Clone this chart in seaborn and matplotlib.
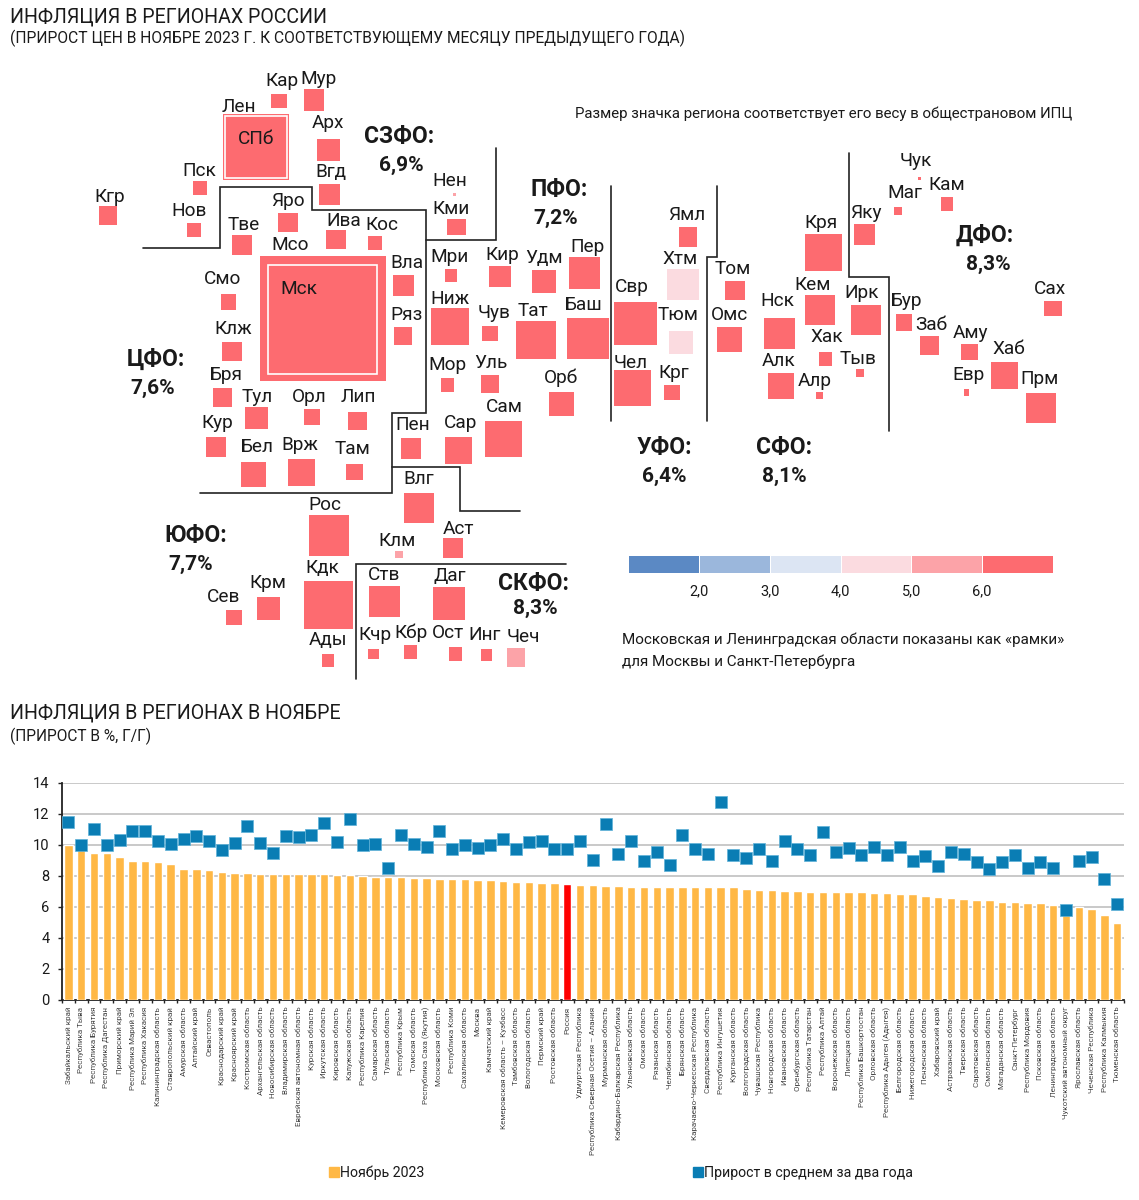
import matplotlib
matplotlib.use("Agg")
import matplotlib.pyplot as plt
from matplotlib.colors import BoundaryNorm, ListedColormap
from matplotlib.lines import Line2D
from matplotlib.patches import Rectangle
import numpy as np
import seaborn as sns

# bottom chart data
regions = ["Забайкальский край", "Республика Тыва", "Республика Бурятия", "Республика Дагестан", "Приморский край",
           "Республика Марий Эл", "Республика Хакасия", "Калининградская область", "Ставропольский край", "Амурская область",
           "Алтайский край", "Севастополь", "Краснодарский край", "Красноярский край", "Костромская область",
           "Архангельская область", "Новосибирская область", "Владимирская область", "Еврейская автономная область", "Курская область",
           "Иркутская область", "Кировская область", "Калужская область", "Республика Карелия", "Самарская область",
           "Тульская область", "Республика Крым", "Томская область", "Республика Саха (Якутия)", "Московская область",
           "Республика Коми", "Сахалинская область", "Москва", "Камчатский край", "Кемеровская область – Кузбасс",
           "Тамбовская область", "Вологодская область", "Пермский край", "Ростовская область", "Россия",
           "Удмуртская Республика", "Республика Северная Осетия – Алания", "Мурманская область", "Кабардино-Балкарская Республика", "Ульяновская область",
           "Омская область", "Рязанская область", "Челябинская область", "Брянская область", "Карачаево-Черкесская Республика",
           "Свердловская область", "Республика Ингушетия", "Курганская область", "Волгоградская область", "Чувашская Республика",
           "Новгородская область", "Ивановская область", "Оренбургская область", "Республика Татарстан", "Республика Алтай",
           "Воронежская область", "Липецкая область", "Республика Башкортостан", "Орловская область", "Республика Адыгея (Адыгея)",
           "Белгородская область", "Нижегородская область", "Пензенская область", "Хабаровский край", "Астраханская область",
           "Тверская область", "Саратовская область", "Смоленская область", "Магаданская область", "Санкт-Петербург",
           "Республика Мордовия", "Псковская область", "Ленинградская область", "Чукотский автономный округ", "Ярославская область",
           "Чеченская Республика", "Республика Калмыкия", "Тюменская область"]
nov_2023 = [10.0, 9.74, 9.48, 9.46, 9.18, 8.97, 8.92, 8.86, 8.77, 8.43,
            8.43, 8.37, 8.22, 8.17, 8.15, 8.13, 8.13, 8.11, 8.11, 8.11,
            8.09, 8.04, 8.02, 7.98, 7.94, 7.91, 7.89, 7.85, 7.85, 7.81,
            7.76, 7.76, 7.70, 7.70, 7.66, 7.59, 7.59, 7.53, 7.51, 7.46,
            7.40, 7.40, 7.33, 7.33, 7.29, 7.29, 7.29, 7.27, 7.27, 7.29,
            7.25, 7.25, 7.25, 7.14, 7.10, 7.05, 6.99, 6.99, 6.97, 6.95,
            6.95, 6.92, 6.92, 6.86, 6.86, 6.82, 6.82, 6.71, 6.65, 6.56,
            6.47, 6.43, 6.43, 6.30, 6.30, 6.26, 6.22, 6.13, 6.05, 6.00,
            5.83, 5.44, 4.92]
two_year_avg = [11.46, 10.0, 11.03, 9.98, 10.32, 10.86, 10.90, 10.22, 10.02, 10.39,
                10.56, 10.22, 9.68, 10.11, 11.20, 10.11, 9.48, 10.56, 10.47, 10.62,
                11.38, 10.17, 11.66, 10.0, 10.06, 8.49, 10.60, 10.04, 9.85, 10.86,
                9.74, 10.0, 9.81, 9.98, 10.34, 9.70, 10.15, 10.24, 9.70, 9.70,
                10.22, 8.99, 11.35, 9.40, 10.24, 8.97, 9.53, 8.67, 10.60, 9.74,
                9.42, 12.75, 9.35, 9.14, 9.70, 8.92, 10.26, 9.74, 9.35, 10.80,
                9.53, 9.76, 9.31, 9.83, 9.33, 9.87, 8.92, 9.29, 8.65, 9.53,
                9.38, 8.86, 8.43, 8.86, 9.31, 8.49, 8.88, 8.52, 5.81, 8.95,
                9.20, 7.76, 6.19]

# map tiles: edges in picture pixels, inflation picks the colour
tile_name = ["Кар", "Мур", "Лен", "СПб", "Арх", "Вгд", "Пск", "Нов", "Кгр", "Яро",
             "Тве", "Ива", "Кос", "Мсо", "Мск", "Вла", "Ряз", "Смо", "Клж", "Бря",
             "Тул", "Орл", "Лип", "Кур", "Бел", "Врж", "Там", "Пен", "Сар", "Сам",
             "Нен", "Кми", "Мри", "Кир", "Удм", "Пер", "Ниж", "Чув", "Тат", "Баш",
             "Мор", "Уль", "Орб", "Свр", "Ямл", "Хтм", "Тюм", "Чел", "Крг", "Том",
             "Омс", "Нск", "Алк", "Кря", "Кем", "Хак", "Алр", "Ирк", "Тыв", "Яку",
             "Чук", "Маг", "Кам", "Бур", "Заб", "Аму", "Евр", "Хаб", "Прм", "Сах",
             "Влг", "Рос", "Клм", "Аст", "Кдк", "Крм", "Сев", "Ады", "Ств", "Даг",
             "Кчр", "Кбр", "Ост", "Инг", "Чеч"]
tile_value = [7.98, 7.33, 6.13, 6.30, 8.13, 7.59, 6.22, 7.05, 8.86, 6.00,
              6.47, 6.99, 8.15, 7.81, 7.70, 8.11, 7.29, 6.43, 8.02, 7.27,
              7.91, 6.86, 6.92, 8.11, 6.82, 6.95, 7.59, 6.71, 6.43, 7.94,
              5.50, 7.76, 8.97, 8.04, 7.40, 7.53, 6.82, 7.10, 6.97, 6.92,
              6.26, 7.29, 6.99, 7.25, 6.50, 4.50, 4.92, 7.27, 7.25, 7.85,
              7.29, 8.13, 8.43, 8.17, 7.66, 8.92, 6.95, 8.09, 9.74, 7.85,
              6.05, 6.30, 7.70, 9.48, 10.0, 8.43, 8.11, 6.65, 9.18, 7.76,
              7.14, 7.51, 5.44, 6.56, 8.22, 7.89, 8.37, 6.86, 8.77, 9.46,
              7.29, 7.33, 7.40, 7.25, 5.83]
tile_left = [271, 304, 223, 225, 317, 319, 193, 187, 99, 278,
             232, 326, 368, 260, 268, 393, 394, 221, 222, 213,
             245, 304, 348, 206, 241, 288, 346, 401, 445, 485,
             453, 447, 445, 489, 532, 569, 431, 482, 516, 567,
             441, 481, 549, 614, 679, 667, 669, 614, 664, 725,
             717, 764, 768, 805, 805, 819, 816, 851, 856, 854,
             918, 894, 941, 896, 920, 961, 964, 991, 1026, 1044,
             404, 309, 395, 443, 304, 257, 226, 322, 369, 433,
             368, 404, 449, 481, 507]
tile_right = [287, 324, 289, 287, 340, 340, 207, 201, 117, 298,
              252, 346, 382, 386, 377, 414, 412, 236, 242, 232,
              268, 320, 367, 226, 266, 315, 363, 421, 472, 522,
              456, 466, 457, 511, 556, 600, 469, 498, 556, 609,
              454, 499, 574, 657, 697, 699, 693, 651, 680, 745,
              742, 795, 794, 842, 835, 832, 823, 881, 864, 875,
              921, 902, 953, 912, 939, 978, 969, 1018, 1056, 1062,
              434, 349, 403, 463, 353, 280, 242, 334, 400, 465,
              379, 417, 462, 492, 525]
tile_top = [94, 89, 114, 116, 139, 184, 181, 223, 206, 213,
            235, 230, 236, 256, 265, 275, 327, 294, 342, 388,
            407, 409, 412, 437, 462, 459, 464, 438, 437, 421,
            193, 219, 269, 266, 270, 257, 308, 326, 321, 318,
            378, 375, 392, 302, 227, 269, 331, 370, 385, 281,
            327, 318, 373, 234, 295, 352, 392, 305, 369, 224,
            177, 207, 197, 314, 336, 344, 389, 362, 393, 301,
            493, 515, 551, 538, 581, 597, 610, 654, 586, 587,
            649, 645, 647, 649, 648]
tile_bottom = [108, 111, 180, 178, 161, 205, 195, 237, 225, 232,
               255, 249, 250, 381, 374, 296, 345, 310, 361, 407,
               429, 425, 430, 457, 487, 486, 480, 459, 464, 457,
               196, 235, 282, 287, 293, 289, 345, 341, 359, 359,
               392, 393, 416, 345, 247, 300, 354, 406, 400, 300,
               352, 349, 399, 271, 325, 366, 399, 335, 377, 245,
               180, 215, 211, 331, 355, 360, 396, 389, 423, 316,
               523, 556, 558, 558, 629, 620, 625, 667, 617, 620,
               659, 659, 661, 661, 667]
label_x = [282, 319, 239, 256, 328, 331, 199, 189, 110, 288,
           244, 344, 382, 290, 299, 407, 407, 223, 233, 226,
           257, 309, 358, 217, 257, 300, 352, 413, 461, 504,
           450, 451, 449, 502, 544, 587, 450, 494, 533, 583,
           447, 491, 561, 632, 687, 680, 678, 631, 674, 733,
           729, 777, 779, 821, 813, 827, 815, 862, 858, 866,
           916, 905, 947, 906, 931, 970, 968, 1009, 1040, 1050,
           419, 325, 397, 458, 322, 268, 224, 328, 384, 450,
           375, 411, 448, 485, 523]
label_y = [79, 77, 106, 137, 122, 171, 169, 210, 195, 200,
           223, 219, 223, 244, 288, 262, 314, 278, 327, 374,
           395, 395, 396, 422, 446, 444, 448, 424, 421, 406,
           179, 207, 255, 254, 257, 246, 297, 311, 309, 304,
           363, 361, 376, 285, 214, 257, 313, 361, 372, 267,
           313, 300, 360, 222, 284, 336, 379, 291, 357, 212,
           159, 192, 183, 299, 323, 332, 374, 347, 378, 287,
           478, 504, 539, 528, 566, 581, 595, 639, 574, 575,
           633, 631, 632, 634, 636]

# districts
district_name = ["СЗФО:", "ЦФО:", "ПФО:", "УФО:", "СФО:", "ДФО:", "ЮФО:", "СКФО:"]
district_rate = ["6,9%", "7,6%", "7,2%", "6,4%", "8,1%", "8,3%", "7,7%", "8,3%"]
district_x = [399, 156, 559, 664, 784, 985, 196, 533]
district_y = [135, 358, 188, 446, 446, 234, 534, 582]
rate_x = [401, 153, 556, 664, 784, 988, 191, 535]
rate_y = [164, 387, 217, 475, 475, 263, 563, 607]
border_lines = [
    [(143, 248), (220, 248), (220, 187), (312, 187), (312, 210), (426, 210), (426, 413), (392, 413), (392, 493), (200, 493)],
    [(496, 148), (496, 240), (426, 240)],
    [(392, 467), (460, 467), (460, 511), (520, 511)],
    [(566, 564), (356, 564), (356, 679)],
    [(611, 186), (611, 421)],
    [(717, 186), (717, 257), (707, 257), (707, 421)],
    [(849, 153), (849, 277), (889, 277), (889, 431)],
]

# colour scale
scale_edges = [1, 2, 3, 4, 5, 6, 7]
scale_colors = ["#5B89C4", "#9BB7DC", "#DCE5F3", "#FBDBE0", "#FCA3A8", "#FD6B70"]
scale_labels = ["2,0", "3,0", "4,0", "5,0", "6,0"]

sns.set_theme(style="white")
plt.rcParams["font.family"] = ["Roboto", "DejaVu Sans"]
TEXT = "#1a1a1a"

fig = plt.figure(figsize=(11.39, 12), dpi=100)

# whole page in pixel units, for the tile map and all loose text
page = fig.add_axes([0, 0, 1, 1])
page.set_xlim(0, 1139)
page.set_ylim(1200, 0)
page.axis("off")


def put(x, y, s, size=11, ha="left", weight="normal"):
    page.text(x, y + 1.5, s, fontsize=size, ha=ha, va="center", color=TEXT, fontweight=weight)


put(10, 15, "ИНФЛЯЦИЯ В РЕГИОНАХ РОССИИ", 14.15)
put(10, 37, "(ПРИРОСТ ЦЕН В НОЯБРЕ 2023 Г. К СООТВЕТСТВУЮЩЕМУ МЕСЯЦУ ПРЕДЫДУЩЕГО ГОДА)", 11.23)
put(10, 712, "ИНФЛЯЦИЯ В РЕГИОНАХ В НОЯБРЕ", 14.15)
put(10, 735, "(ПРИРОСТ В %, Г/Г)", 11.2)
put(575, 112, "Размер значка региона соответствует его весу в общестрановом ИПЦ", 10.83)
put(622, 638, "Московская и Ленинградская области показаны как «рамки»", 10.95)
put(622, 660, "для Москвы и Санкт-Петербурга", 10.95)

cmap = ListedColormap(scale_colors)
norm = BoundaryNorm(scale_edges[:-1] + [99], cmap.N)

for i, name in enumerate(tile_name):
    # city tiles sit inside their oblast tile, a white ring separates them
    ring = name in ("СПб", "Мск")
    page.add_patch(Rectangle((tile_left[i], tile_top[i]), tile_right[i] - tile_left[i], tile_bottom[i] - tile_top[i],
                             facecolor=cmap(norm(tile_value[i])), edgecolor="white" if ring else "none",
                             linewidth=1.2 if ring else 0))
    put(label_x[i], label_y[i], name, 13.7, ha="center")

for i, name in enumerate(district_name):
    put(district_x[i], district_y[i], name, 16.5, ha="center", weight="bold")
    put(rate_x[i], rate_y[i], district_rate[i], 15, ha="center", weight="bold")

for line in border_lines:
    xs, ys = zip(*line)
    page.plot(xs, ys, color="#222222", lw=1.2, solid_joinstyle="miter")

# colour scale bar
scale_ax = fig.add_axes([628 / 1139, 1 - 573 / 1200, 425 / 1139, 18 / 1200])
scale_ax.pcolormesh(scale_edges, [0, 1], [scale_edges[:-1]], cmap=cmap, norm=norm, edgecolor="white", linewidth=0.4)
scale_ax.set_xticks(scale_edges[1:-1], scale_labels, fontsize=10.5, color=TEXT)
scale_ax.set_yticks([])
scale_ax.tick_params(axis="x", length=0, pad=8)
sns.despine(ax=scale_ax, left=True, bottom=True)

# bar chart
ax = fig.add_axes([62 / 1139, 1 - 999.7 / 1200, 1061.6 / 1139, 217 / 1200])
ax.patch.set_alpha(0)
bar_colors = ["#FF0000" if r == "Россия" else "#FFB845" for r in regions]
sns.barplot(x=regions, y=nov_2023, hue=regions, palette=bar_colors, legend=False, width=0.66,
            saturation=1, ax=ax, zorder=3)
sns.scatterplot(x=regions, y=two_year_avg, marker="s", s=70, color="#0A7DB4", edgecolor="#5FB2D8",
                linewidth=0.5, ax=ax, zorder=4, clip_on=False)
ax.set_xlim(-0.5, len(regions) - 0.5)
ax.set_ylim(0, 14)
ax.set_yticks(range(0, 15, 2))
ax.grid(axis="y", color="#C9C9C9", lw=1.4)
ax.grid(axis="x", visible=False)
ax.set_axisbelow(True)
ax.set_xticks(range(len(regions)), regions, rotation=90, fontsize=5.8, color="#444444")
ax.set_xticks(np.arange(-0.5, len(regions)), minor=True)
ax.tick_params(axis="x", which="major", length=0, pad=5)
ax.tick_params(axis="x", which="minor", length=2.5, width=1, color="#222222", bottom=True)
ax.tick_params(axis="y", length=3, width=1, color="#222222", left=True, labelsize=10.5, labelcolor=TEXT, pad=6)
sns.despine(ax=ax)
for side in ("left", "bottom"):
    ax.spines[side].set_color("#222222")
    ax.spines[side].set_linewidth(1.3)

handles = [Line2D([], [], marker="s", ls="", ms=6.5, color="#FFB845", label="Ноябрь 2023"),
           Line2D([], [], marker="s", ls="", ms=7.5, color="#0A7DB4", label="Прирост в среднем за два года")]
fig.legend(handles=handles, ncol=2, frameon=False, fontsize=10.2, loc="center left", borderpad=0, borderaxespad=0,
           bbox_to_anchor=(328 / 1139, 1 - 1173 / 1200), handlelength=0.8, columnspacing=18.9, handletextpad=0.05,
           labelcolor=TEXT)

fig.savefig("out.png", dpi=100)
